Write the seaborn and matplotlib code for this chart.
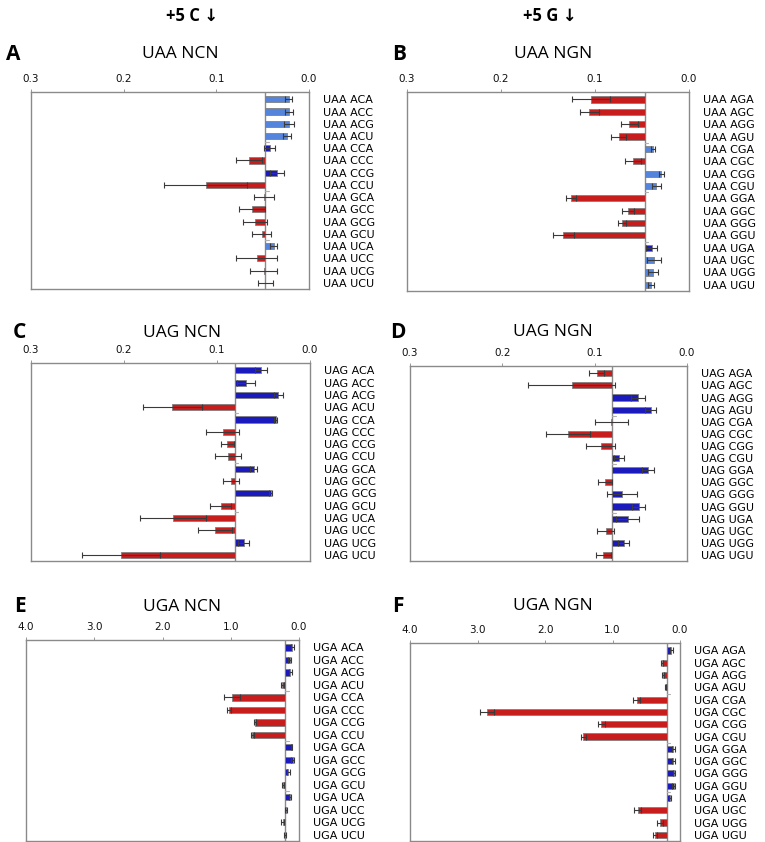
import matplotlib
matplotlib.use("Agg")
import matplotlib.pyplot as plt
import numpy as np
import pandas as pd
import seaborn as sns

sns.set_theme(style="white")
plt.rcParams["font.family"] = ["DejaVu Sans"]
plt.rcParams["text.color"] = "black"

# 第3コドン位置 NCN / NGN
ncn = ["ACA", "ACC", "ACG", "ACU", "CCA", "CCC", "CCG", "CCU",
       "GCA", "GCC", "GCG", "GCU", "UCA", "UCC", "UCG", "UCU"]
ngn = ["AGA", "AGC", "AGG", "AGU", "CGA", "CGC", "CGG", "CGU",
       "GGA", "GGC", "GGG", "GGU", "UGA", "UGC", "UGG", "UGU"]

# 値。r: 赤, b: 濃い青, l: 薄い青
uaa_ncn_val = [0.022, 0.0215, 0.0215, 0.0235, 0.0425, 0.0645, 0.0345, 0.1115,
               0.0485, 0.062, 0.058, 0.051, 0.038, 0.0565, 0.049, 0.047]
uaa_ncn_err = [0.004, 0.0043, 0.0058, 0.0043, 0.0058, 0.014, 0.008, 0.045,
               0.011, 0.014, 0.013, 0.010, 0.0036, 0.022, 0.015, 0.008]
uaa_ncn_col = "llllbrbrrrrrlrrr"

uaa_ngn_val = [0.1045, 0.106, 0.0635, 0.0745, 0.0382, 0.0595, 0.0295, 0.0347,
               0.1255, 0.065, 0.0715, 0.1335, 0.0396, 0.0368, 0.0382, 0.0403]
uaa_ngn_err = [0.020, 0.010, 0.009, 0.008, 0.002, 0.009, 0.0025, 0.005,
               0.0055, 0.006, 0.004, 0.011, 0.006, 0.0075, 0.005, 0.0035]
uaa_ngn_col = "rrrrlrllrrrrblll"

uag_ncn_val = [0.0527, 0.069, 0.034, 0.148, 0.037, 0.094, 0.089, 0.088,
               0.0606, 0.0846, 0.0423, 0.096, 0.147, 0.102, 0.0713, 0.203]
uag_ncn_err = [0.006, 0.010, 0.005, 0.032, 0.002, 0.018, 0.007, 0.014,
               0.004, 0.0086, 0.002, 0.0115, 0.0355, 0.018, 0.0056, 0.042]
uag_ncn_col = "bbbrbrrrbrbrrrbr"

uag_ngn_val = [0.098, 0.125, 0.053, 0.0395, 0.0822, 0.129, 0.0935, 0.0736,
               0.0428, 0.0888, 0.0703, 0.0525, 0.064, 0.088, 0.0688, 0.0906]
uag_ngn_err = [0.008, 0.047, 0.008, 0.006, 0.018, 0.024, 0.016, 0.005,
               0.0065, 0.008, 0.016, 0.0067, 0.0125, 0.009, 0.0055, 0.008]
uag_ngn_col = "rrbbrrrbbrbbbrbr"

uga_ncn_val = [0.098, 0.137, 0.127, 0.244, 0.98, 1.024, 0.649, 0.683,
               0.107, 0.093, 0.156, 0.229, 0.132, 0.19, 0.239, 0.205]
uga_ncn_err = [0.02, 0.02, 0.02, 0.02, 0.12, 0.025, 0.015, 0.02,
               0.01, 0.02, 0.02, 0.015, 0.01, 0.01, 0.02, 0.015]
uga_ncn_col = "bbbrrrrrbbbrbbrr"

uga_ngn_val = [0.128, 0.267, 0.247, 0.2125, 0.64, 2.86, 1.165, 1.43,
               0.099, 0.099, 0.089, 0.094, 0.155, 0.627, 0.30, 0.37]
uga_ngn_err = [0.02, 0.02, 0.015, 0.01, 0.05, 0.10, 0.05, 0.03,
               0.02, 0.02, 0.02, 0.02, 0.015, 0.055, 0.045, 0.03]
uga_ngn_col = "brrrrrrrbbbbbrrr"

# 基準値（野生型）
baseline = {"UAA": 0.047, "UAG": 0.081, "UGA": 0.20}

COLORS = {"r": "#e40000", "b": "#0000d8", "l": "#3d7ef2"}

panels = [
    ("A", "UAA", "NCN", ncn, uaa_ncn_val, uaa_ncn_err, uaa_ncn_col,
     [0.3, 0.2, 0.1, 0.0], [0.0405, 0.6568, 0.3634, 0.2340], 13, 54, 180),
    ("B", "UAA", "NGN", ngn, uaa_ngn_val, uaa_ngn_err, uaa_ngn_col,
     [0.3, 0.2, 0.1, 0.0], [0.5320, 0.6544, 0.3686, 0.2363], 399, 54, 553),
    ("C", "UAG", "NCN", ncn, uag_ncn_val, uag_ncn_err, uag_ncn_col,
     [0.3, 0.2, 0.1, 0.0], [0.0405, 0.3337, 0.3647, 0.2352], 19, 333, 182),
    ("D", "UAG", "NGN", ngn, uag_ngn_val, uag_ngn_err, uag_ngn_col,
     [0.3, 0.2, 0.1, 0.0], [0.5360, 0.3337, 0.3621, 0.2316], 398, 332, 553),
    ("E", "UGA", "NCN", ncn, uga_ncn_val, uga_ncn_err, uga_ncn_col,
     [4.0, 3.0, 2.0, 1.0, 0.0], [0.0340, 0.0012, 0.3569, 0.2387], 20, 607, 182),
    ("F", "UGA", "NGN", ngn, uga_ngn_val, uga_ngn_err, uga_ngn_col,
     [4.0, 3.0, 2.0, 1.0, 0.0], [0.5360, 0.0012, 0.3529, 0.2350], 398, 606, 553),
]

W, H = 765, 842
fig = plt.figure(figsize=(W / 100, H / 100), dpi=100)

for letter, stop, ctx, codons, vals, errs, cols, ticks, rect, lx, ly, tx in panels:
    ax = fig.add_axes(rect)
    base = baseline[stop]
    labels = [f"{stop} {c}" for c in codons]
    df = pd.DataFrame({"label": labels, "delta": np.array(vals) - base})
    palette = {lab: COLORS[c] for lab, c in zip(labels, cols)}
    sns.barplot(data=df, x="delta", y="label", hue="label", palette=palette,
                left=base, width=0.5, edgecolor="#808080", linewidth=0.6,
                errorbar=None, legend=False, ax=ax, zorder=2)
    ax.errorbar(vals, np.arange(len(vals)), xerr=errs, fmt="none",
                ecolor="#3a3a3a", elinewidth=0.8, capsize=2, capthick=0.8, zorder=3)
    ax.axvline(base, color="#8a8a8a", lw=1.0, zorder=1)
    # グループ区切りの小さな目印
    xmax = ticks[0]
    for yb in (3.5, 7.5, 11.5):
        ax.plot([base, base - 0.012 * xmax], [yb, yb], color="#b0b0b0", lw=0.8)

    ax.set_xlim(ticks[0], 0)
    ax.set_xticks(ticks)
    ax.set_xticklabels([f"{t:.1f}" for t in ticks])
    ax.set_ylim(15.5, -0.6)
    ax.xaxis.tick_top()
    ax.yaxis.tick_right()
    ax.tick_params(axis="x", length=2, width=0.6, color="#888888", pad=4,
                   labelsize=7.5, labelcolor="#111111")
    ax.tick_params(axis="y", length=0, pad=10, labelsize=8, labelcolor="black")
    ax.set_xlabel("")
    ax.set_ylabel("")
    for s in ax.spines.values():
        s.set_color("#8a8a8a")
        s.set_linewidth(1.0)

    fig.text(lx / W, 1 - ly / H, letter, fontsize=15, fontweight="bold",
             color="black", ha="center", va="center",
             family=["Open Sans", "DejaVu Sans"])
    fig.text(tx / W, 1 - ly / H, f"{stop} {ctx}", fontsize=12.5, color="black",
             ha="center", va="center", family=["Open Sans", "DejaVu Sans"])

fig.text(192 / W, 1 - 16 / H, "+5 C ↓", fontsize=12, fontweight="bold",
         color="black", ha="center", va="center",
         family=["Open Sans", "DejaVu Sans"])
fig.text(550 / W, 1 - 16 / H, "+5 G ↓", fontsize=12, fontweight="bold",
         color="black", ha="center", va="center",
         family=["Open Sans", "DejaVu Sans"])

fig.savefig("out.png", dpi=100)
plt.close(fig)
